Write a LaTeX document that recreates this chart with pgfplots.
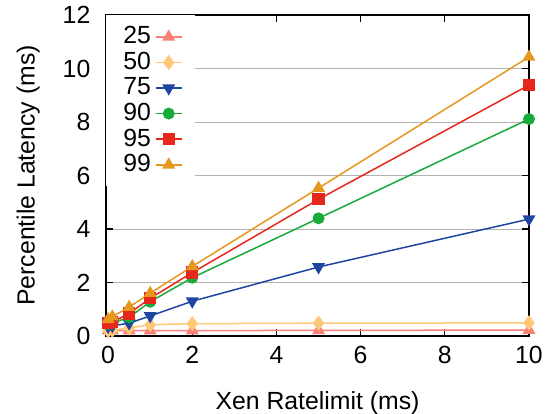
\documentclass[border=0pt]{standalone}
\usepackage{fontspec}
\setmainfont{Liberation Sans}
\usepackage{pgfplots}
\pgfplotsset{compat=1.18}
\definecolor{c25}{RGB}{250,128,118}
\definecolor{c50}{RGB}{255,200,120}
\definecolor{c75}{RGB}{30,70,160}
\definecolor{c90}{RGB}{25,170,60}
\definecolor{c95}{RGB}{230,40,28}
\definecolor{c99}{RGB}{230,152,30}
\begin{document}
\fontsize{12.4}{14}\selectfont
\begin{tikzpicture}
\begin{axis}[
  scale only axis,
  width=211.5pt, height=160.5pt,
  xmin=-0.05, xmax=10, ymin=0, ymax=12,
  xtick={0,2,...,10}, ytick={0,2,...,12},
  tick align=inside,
  major tick length=3.5pt,
  tick style={black, line width=0.6pt},
  axis line style={line width=1pt},
  ymajorgrids,
  grid style={color=black!30, line width=0.5pt},
  /pgf/number format/assume math mode=true,
  tick label style={font=\fontsize{12.4}{14}\selectfont},
  label style={font=\fontsize{12.4}{14}\selectfont},
  yticklabel style={xshift=-3.5pt},
  xticklabel style={yshift=-1pt},
  xlabel={Xen Ratelimit (ms)},
  ylabel={Percentile Latency (ms)},
  xlabel style={yshift=-5pt},
  ylabel style={yshift=3pt},
  legend plot pos=right,
  legend cell align=right,
  legend image code/.code={
    \draw[mark repeat=2,mark phase=2,#1] plot coordinates {(0pt,0pt)(6.5pt,0pt)(13pt,0pt)};},
  legend style={at={(0,1)}, anchor=north west, draw=none, fill=white,
    font=\fontsize{12.4}{14}\selectfont, row sep=-1.7pt,
    inner xsep=6.5pt, inner ysep=3.5pt,
    /tikz/every even column/.append style={column sep=3.5pt}},
  every axis plot/.append style={line width=0.75pt},
]
\addplot[c25, mark=triangle*, mark size=3pt] coordinates {(0,0.2)(0.1,0.2)(0.5,0.2)(1,0.2)(2,0.2)(5,0.21)(10,0.22)};
\addlegendentry{25}
\addplot[c50, mark=diamond*, mark size=3.2pt] coordinates {(0,0.2)(0.1,0.22)(0.5,0.3)(1,0.42)(2,0.46)(5,0.48)(10,0.49)};
\addlegendentry{50}
\addplot[c75, mark=triangle*, mark options={rotate=180}, mark size=3pt] coordinates {(0,0.35)(0.1,0.38)(0.5,0.48)(1,0.75)(2,1.3)(5,2.58)(10,4.37)};
\addlegendentry{75}
\addplot[c90, mark=*, mark size=2.6pt] coordinates {(0,0.45)(0.1,0.48)(0.5,0.7)(1,1.28)(2,2.18)(5,4.4)(10,8.11)};
\addlegendentry{90}
\addplot[c95, mark=square*, mark size=2.7pt] coordinates {(0,0.48)(0.1,0.52)(0.5,0.84)(1,1.41)(2,2.37)(5,5.11)(10,9.38)};
\addlegendentry{95}
\addplot[c99, mark=triangle*, mark size=3pt] coordinates {(0,0.62)(0.1,0.72)(0.5,1.08)(1,1.6)(2,2.6)(5,5.53)(10,10.43)};
\addlegendentry{99}
\end{axis}
\pgfresetboundingbox
\useasboundingbox (-53pt,-38.5pt) rectangle (220.5pt,168pt);
\end{tikzpicture}
\end{document}
